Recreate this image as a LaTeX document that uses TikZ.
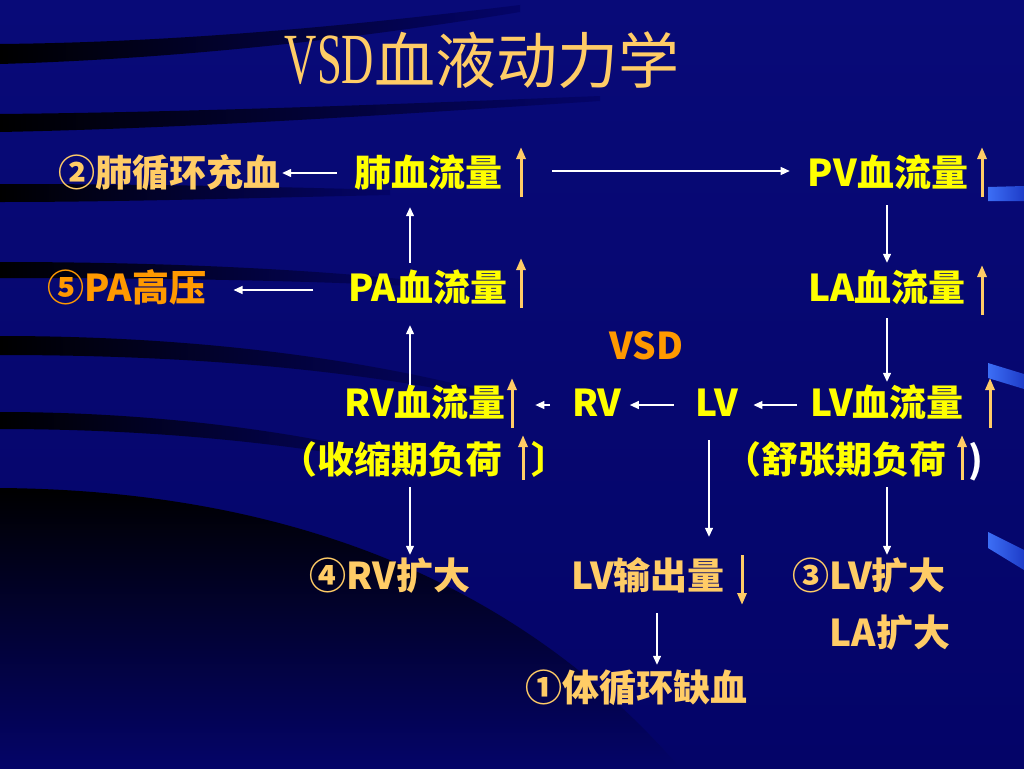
\documentclass[tikz,border=0pt]{standalone}
\usepackage{fontspec}
\newfontfamily\cjk{Noto Sans CJK SC}
\newfontfamily\tserif{Liberation Serif}[FakeStretch=0.62]
\usetikzlibrary{arrows.meta,calc}
\definecolor{bgnavy}{RGB}{4,4,104}
\definecolor{bgtop}{RGB}{8,10,120}
\definecolor{yel}{RGB}{255,255,0}
\definecolor{lorange}{RGB}{255,204,102}
\definecolor{dorange}{RGB}{255,153,0}
\definecolor{rblue}{RGB}{60,110,245}
\definecolor{rblue2}{RGB}{30,60,200}
\begin{document}
\begin{tikzpicture}[x=1pt,y=-1pt,
  lbl/.style={font=\cjk\bfseries\fontsize{37}{40}\selectfont, inner sep=0pt, text height=28pt, text depth=6pt},
  yl/.style={lbl,text=yel},
  ol/.style={lbl,text=lorange},
  dl/.style={lbl,text=dorange},
  warr/.style={draw=white, line width=1.3pt, -{Triangle[length=9pt,width=8pt]}},
  oarr/.style={draw=lorange, line width=3pt, -{Triangle[length=12pt,width=9pt]}},
  band/.style={left color=black, right color=bgnavy, draw=none},
  rband/.style={left color=rblue, right color=rblue2, draw=none},
]
\useasboundingbox (0,0) rectangle (1024,768);
% background
\shade[top color=bgtop, bottom color=bgnavy] (0,0) rectangle (1024,768);
% dark swooshes
\shade[band] (0,44) .. controls (200,42) and (380,22) .. (520,5) -- (520,12) .. controls (380,35) and (200,58) .. (0,64) -- cycle;
\shade[band] (0,114) .. controls (200,112) and (400,104) .. (600,96) -- (600,101) .. controls (400,114) and (200,128) .. (0,132) -- cycle;
\shade[band] (0,184) .. controls (120,184) and (250,186) .. (390,190) -- (390,195) .. controls (250,198) and (120,202) .. (0,202) -- cycle;
\shade[band] (0,262) .. controls (150,262) and (300,268) .. (430,282) -- (430,287) .. controls (300,280) and (150,278) .. (0,278) -- cycle;
\shade[band] (0,336) .. controls (180,336) and (350,355) .. (500,395) -- (500,401) .. controls (350,368) and (180,355) .. (0,355) -- cycle;
\shade[band] (0,412) .. controls (150,412) and (300,430) .. (430,465) -- (430,471) .. controls (300,443) and (150,429) .. (0,429) -- cycle;
\shade[top color=black, bottom color=bgnavy, draw=none] (0,488) .. controls (250,490) and (500,560) .. (680,768) -- (0,768) -- cycle;
% blue swooshes at right edge
\shade[rband] (988,187) -- (1024,186) -- (1024,201) -- (988,201) -- cycle;
\shade[rband] (988,363) -- (1024,374) -- (1024,389) -- (988,378) -- cycle;
\shade[rband] (988,532) -- (1024,550) -- (1024,570) -- (988,548) -- cycle;
% title
\node[text=lorange, inner sep=0pt] (title) at (482,60) {\tserif\fontsize{72}{76}\selectfont VSD\cjk\fontsize{61}{66}\selectfont 血液动力学};
% row 1
\node[ol] (chong) at (169,175) {②肺循环充血};
\node[yl] (fei) at (428,175) {肺血流量};
\node[yl] (pv) at (888,175) {PV血流量};
% row 2
\node[dl] (pah) at (127,290) {⑤PA高压};
\node[yl] (pa) at (428,290) {PA血流量};
\node[yl] (la) at (887,290) {LA血流量};
\node[dl] (vsd) at (646,348) {VSD};
% row 3
\node[yl] (rvf) at (425,405) {RV血流量};
\node[yl] (rv) at (597,405) {RV};
\node[yl] (lv) at (717,405) {LV};
\node[yl] (lvf) at (887,405) {LV血流量};
% row 4
\node[yl] (sys) at (391,462) {（收缩期负荷};
\node[yl, anchor=west] (sysc) at (531,462) {〕};
\node[yl] (dia) at (835,462) {（舒张期负荷};
\node[lbl,text=white] (diac) at (976,462) {)};
% row 5-7
\node[ol] (rvd) at (390,578) {④RV扩大};
\node[ol] (lvo) at (648,578) {LV输出量};
\node[ol] (lvd) at (869,578) {③LV扩大};
\node[ol] (lad) at (890,635) {LA扩大};
\node[ol] (syst) at (636,690) {①体循环缺血};
% column coordinates
\coordinate (cA) at (410,0);
\coordinate (cB) at (887,0);
\coordinate (cC) at (709,0);
\coordinate (cD) at (657,0);
% orange up/down marks
\draw[oarr] (521,197) -- (521,147);
\draw[oarr] (982,197) -- (982,147);
\draw[oarr] (521,308) -- (521,258);
\draw[oarr] (982,315) -- (982,265);
\draw[oarr] (512,428) -- (512,378);
\draw[oarr] (990,428) -- (990,378);
\draw[oarr] (523,480) -- (523,435);
\draw[oarr] (962,480) -- (962,435);
\draw[oarr] (742,555) -- (742,605);
% white connectors
\draw[warr, shorten <=17pt, shorten >=2pt] ([yshift=2pt]fei.west) -- ([yshift=2pt]chong.east);
\draw[warr, shorten <=50pt, shorten >=18pt] ([yshift=4pt]fei.east) -- ([yshift=4pt]pv.west);
\draw[warr, shorten <=35pt, shorten >=27pt] (pa.west) -- (pah.east);
\draw[warr, shorten <=10pt, shorten >=15pt] (pa.north -| cA) -- (fei.south -| cA);
\draw[warr, shorten <=13pt, shorten >=10pt] (pv.south -| cB) -- (la.north -| cB);
\draw[warr, shorten <=3pt, shorten >=18pt] (rvf.north -| cA) -- (pa.south -| cA);
\draw[warr, shorten <=11pt, shorten >=6pt] (la.south -| cB) -- (lvf.north -| cB);
\draw[warr, shorten <=22pt, shorten >=30pt] (rv.west) -- (rvf.east);
\draw[warr, shorten <=22pt, shorten >=8pt] (lv.west) -- (rv.east);
\draw[warr, shorten <=13pt, shorten >=15pt] (lvf.west) -- (lv.east);
\draw[warr, shorten <=18pt, shorten >=24pt] (lv.south -| cC) -- (lvo.north -| cC);
\draw[warr, shorten <=8pt, shorten >=6pt] (sys.south -| cA) -- (rvd.north -| cA);
\draw[warr, shorten <=8pt, shorten >=6pt] (dia.south -| cB) -- (lvd.north -| cB);
\draw[warr, shorten <=18pt, shorten >=8pt] (lvo.south -| cD) -- (syst.north -| cD);
\end{tikzpicture}
\end{document}
